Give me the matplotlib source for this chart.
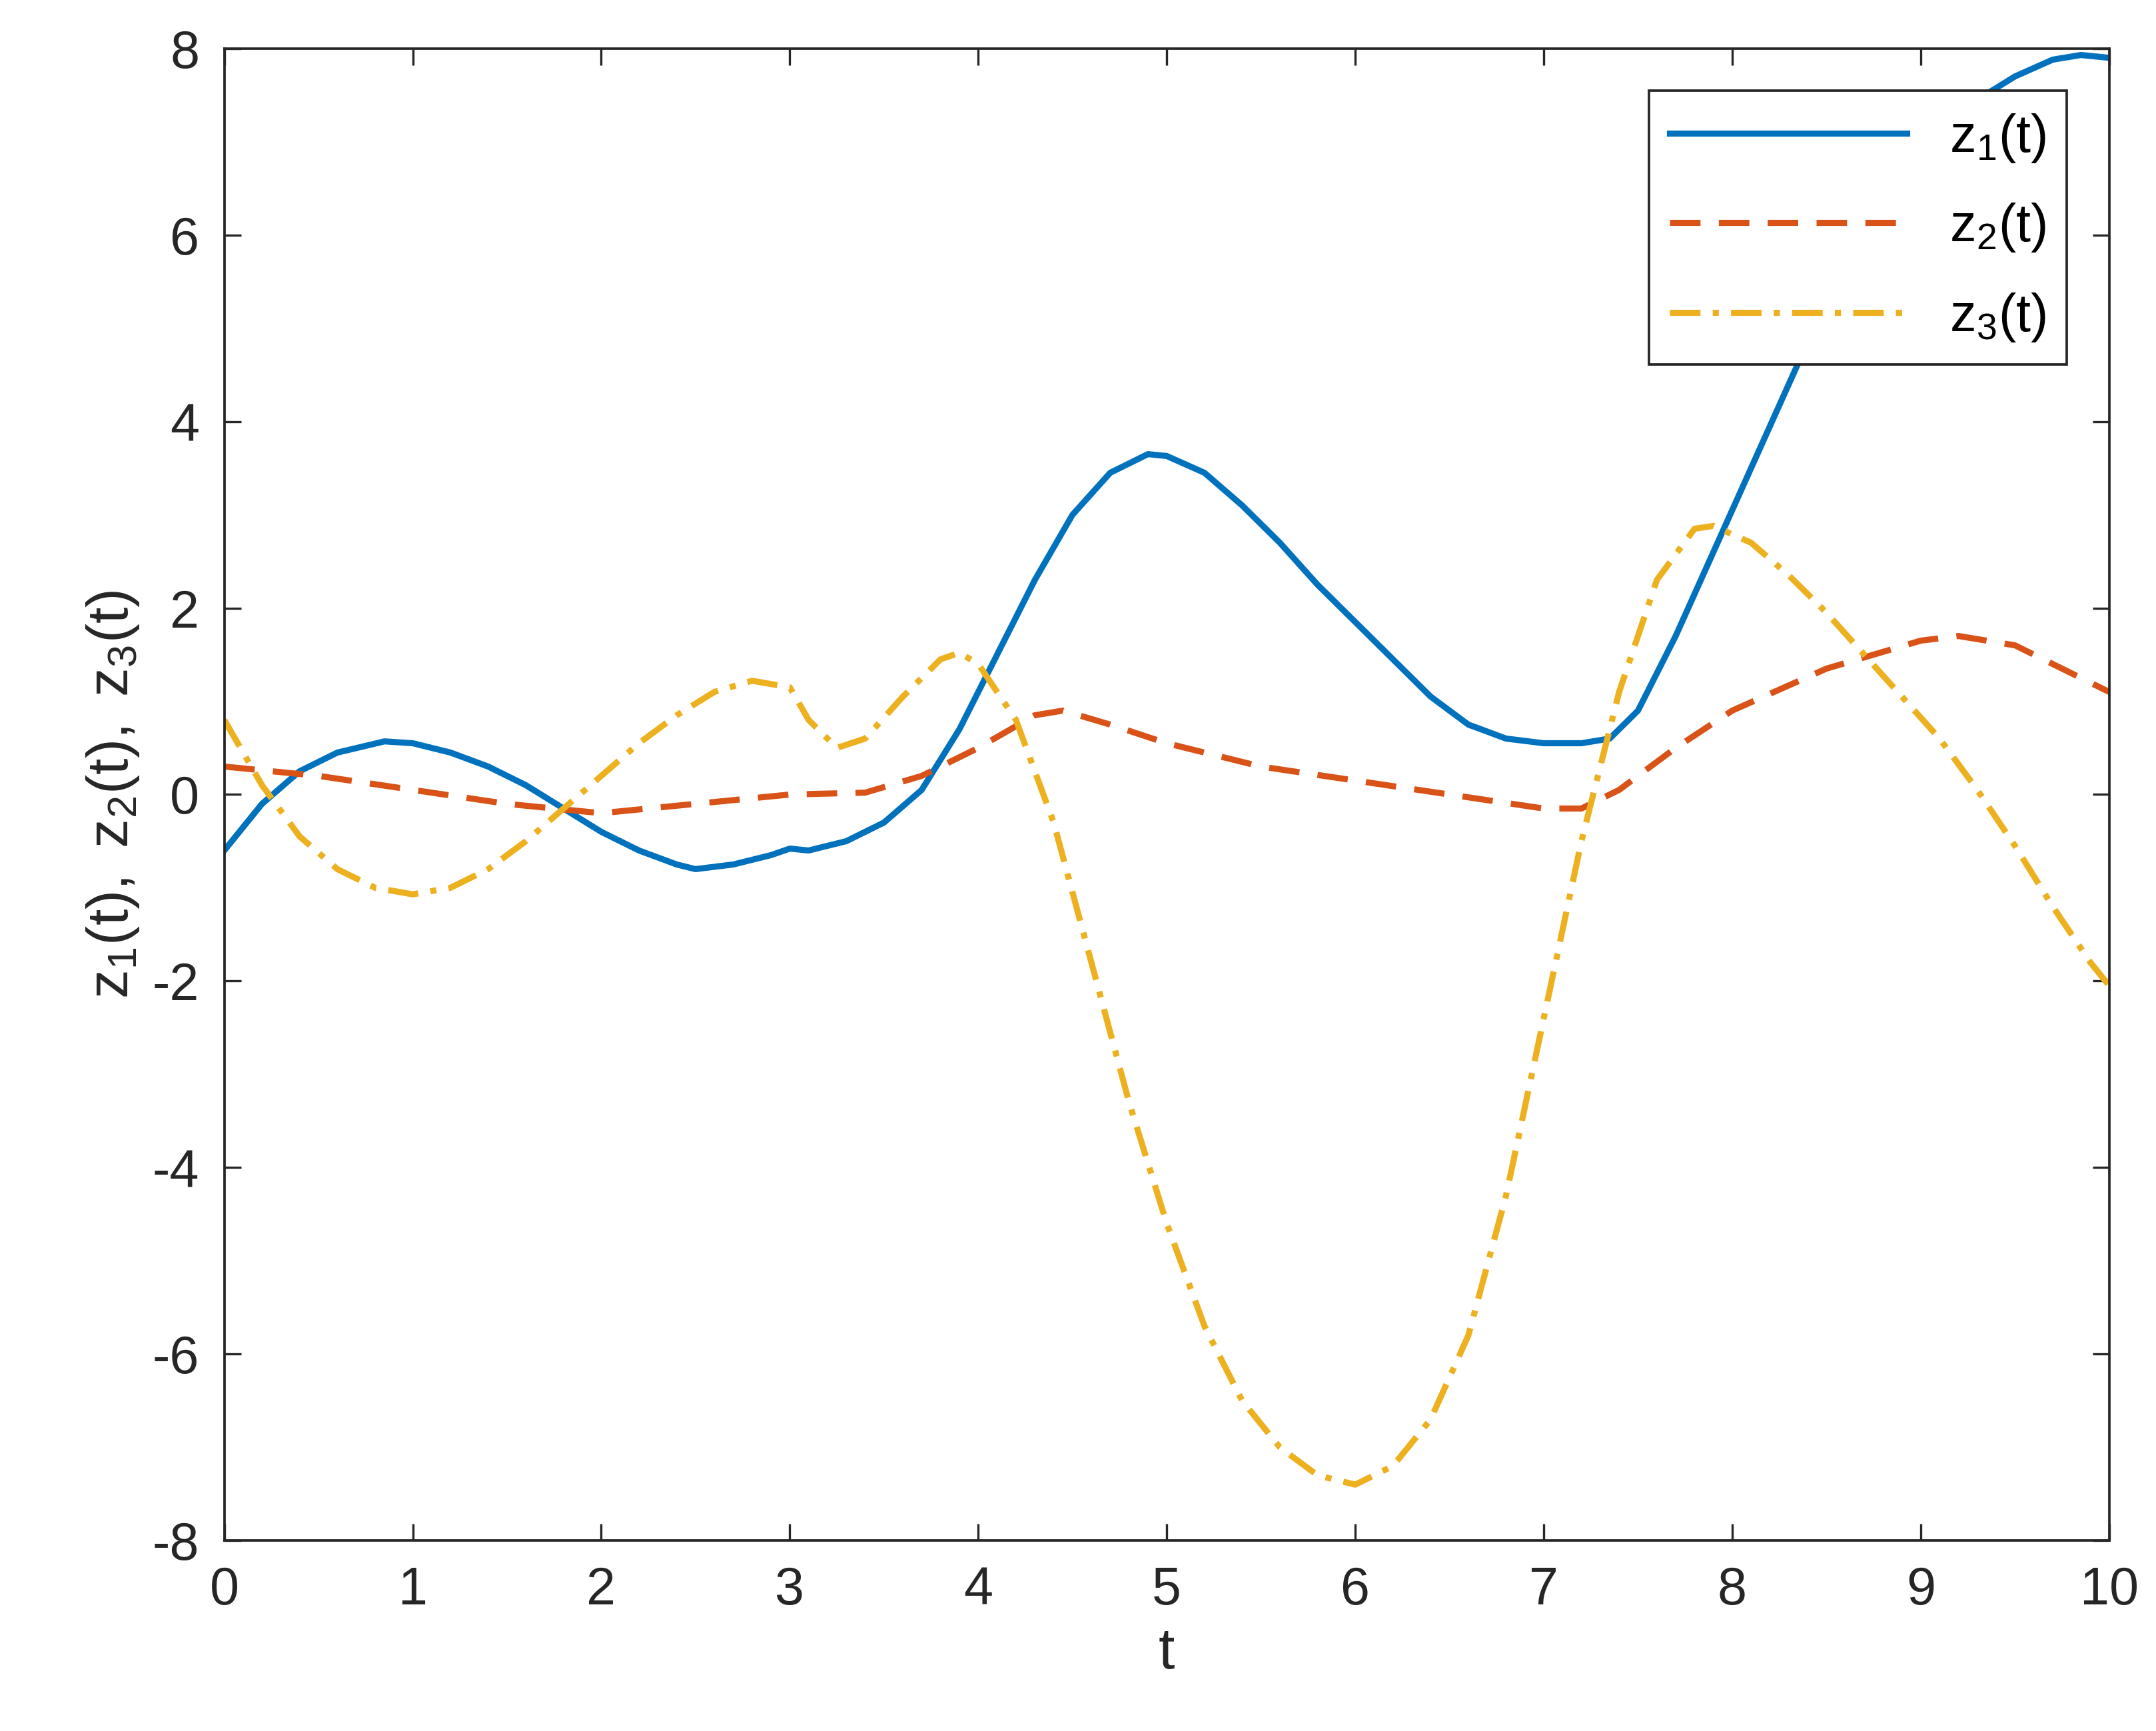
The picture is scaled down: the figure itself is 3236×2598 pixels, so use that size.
import matplotlib
matplotlib.use("Agg")
import matplotlib.pyplot as plt

plt.rcParams['font.family'] = ['Liberation Sans', 'DejaVu Sans']
plt.rcParams['mathtext.fontset'] = 'custom'
plt.rcParams['mathtext.rm'] = 'Liberation Sans'
plt.rcParams['mathtext.it'] = 'Liberation Sans'
plt.rcParams['axes.unicode_minus'] = False

t1 = [0, 0.2, 0.4, 0.6, 0.85, 1.0, 1.2, 1.4, 1.6, 1.8, 2.0, 2.2, 2.4, 2.5, 2.7, 2.9, 3.0, 3.1, 3.3, 3.5, 3.7, 3.9, 4.1, 4.3, 4.5, 4.7, 4.9, 5.0, 5.2, 5.4, 5.6, 5.8, 6.0, 6.2, 6.4, 6.6, 6.8, 7.0, 7.2, 7.35, 7.5, 7.7, 7.9, 8.1, 8.3, 8.5, 8.7, 8.9, 9.1, 9.3, 9.5, 9.7, 9.85, 10]
z1 = [-0.6, -0.1, 0.25, 0.45, 0.57, 0.55, 0.45, 0.3, 0.1, -0.15, -0.4, -0.6, -0.75, -0.8, -0.75, -0.65, -0.58, -0.6, -0.5, -0.3, 0.05, 0.7, 1.5, 2.3, 3.0, 3.45, 3.65, 3.63, 3.45, 3.1, 2.7, 2.25, 1.85, 1.45, 1.05, 0.75, 0.6, 0.55, 0.55, 0.6, 0.9, 1.7, 2.6, 3.5, 4.4, 5.3, 6.0, 6.6, 7.1, 7.45, 7.7, 7.88, 7.93, 7.9]

t2 = [0, 0.5, 1, 1.5, 2, 2.5, 3.0, 3.4, 3.7, 4.0, 4.3, 4.45, 4.7, 5, 5.5, 6, 6.5, 7.0, 7.2, 7.4, 7.7, 8, 8.5, 9, 9.2, 9.5, 10]
z2 = [0.3, 0.2, 0.05, -0.1, -0.2, -0.1, 0.0, 0.02, 0.2, 0.5, 0.85, 0.9, 0.75, 0.55, 0.3, 0.15, 0.0, -0.15, -0.15, 0.05, 0.5, 0.9, 1.35, 1.65, 1.7, 1.6, 1.1]

t3 = [0, 0.2, 0.4, 0.6, 0.8, 1.0, 1.2, 1.4, 1.6, 1.8, 2.0, 2.2, 2.4, 2.6, 2.8, 3.0, 3.1, 3.25, 3.4, 3.6, 3.8, 3.9, 4.0, 4.2, 4.4, 4.6, 4.8, 5.0, 5.2, 5.4, 5.6, 5.8, 6.0, 6.2, 6.4, 6.6, 6.8, 7.0, 7.2, 7.4, 7.6, 7.8, 7.9, 8.1, 8.3, 8.5, 8.7, 8.9, 9.1, 9.3, 9.5, 9.7, 9.9, 10]
z3 = [0.8, 0.1, -0.45, -0.8, -1.0, -1.07, -1.0, -0.8, -0.5, -0.15, 0.2, 0.55, 0.85, 1.1, 1.22, 1.15, 0.8, 0.5, 0.6, 1.05, 1.45, 1.52, 1.4, 0.8, -0.3, -1.8, -3.3, -4.6, -5.7, -6.5, -7.0, -7.3, -7.4, -7.2, -6.7, -5.8, -4.3, -2.4, -0.5, 1.1, 2.3, 2.85, 2.88, 2.7, 2.35, 1.95, 1.5, 1.05, 0.6, 0.05, -0.55, -1.2, -1.8, -2.05]

labels = [r'$\mathregular{z_1(t)}$', r'$\mathregular{z_2(t)}$', r'$\mathregular{z_3(t)}$']

fig = plt.figure(figsize=(10.79, 8.66), dpi=300)
ax = fig.add_axes([0.104, 0.110, 0.874, 0.862])
ax.plot(t1, z1, color='#0072BD', lw=2.2, label=labels[0])
ax.plot(t2, z2, color='#D95319', lw=2.2, ls=(0, (5, 3)), label=labels[1])
ax.plot(t3, z3, color='#EDB120', lw=2.2, ls=(0, (5, 2, 1, 2)), label=labels[2])
ax.set_xlim(0, 10)
ax.set_ylim(-8, 8)
ax.set_xticks(range(0, 11))
ax.set_yticks(range(-8, 9, 2))
ax.tick_params(direction='in', top=True, right=True, labelsize=19, length=6, pad=9, color='#262626', labelcolor='#262626')
for s in ax.spines.values():
    s.set_color('#262626')
    s.set_linewidth(0.9)
ax.set_xlabel('t', fontsize=21, color='#262626', labelpad=4)
ax.set_ylabel(r'$\mathregular{z_1(t),\ z_2(t),\ z_3(t)}$', fontsize=21, color='#262626', labelpad=4)
leg = ax.legend(loc='upper right', fontsize=19, handlelength=4.5, labelspacing=0.7, fancybox=False, framealpha=1, edgecolor='#262626', borderaxespad=0.8)
leg.get_frame().set_linewidth(0.9)
fig.savefig('out.png', dpi=300)
